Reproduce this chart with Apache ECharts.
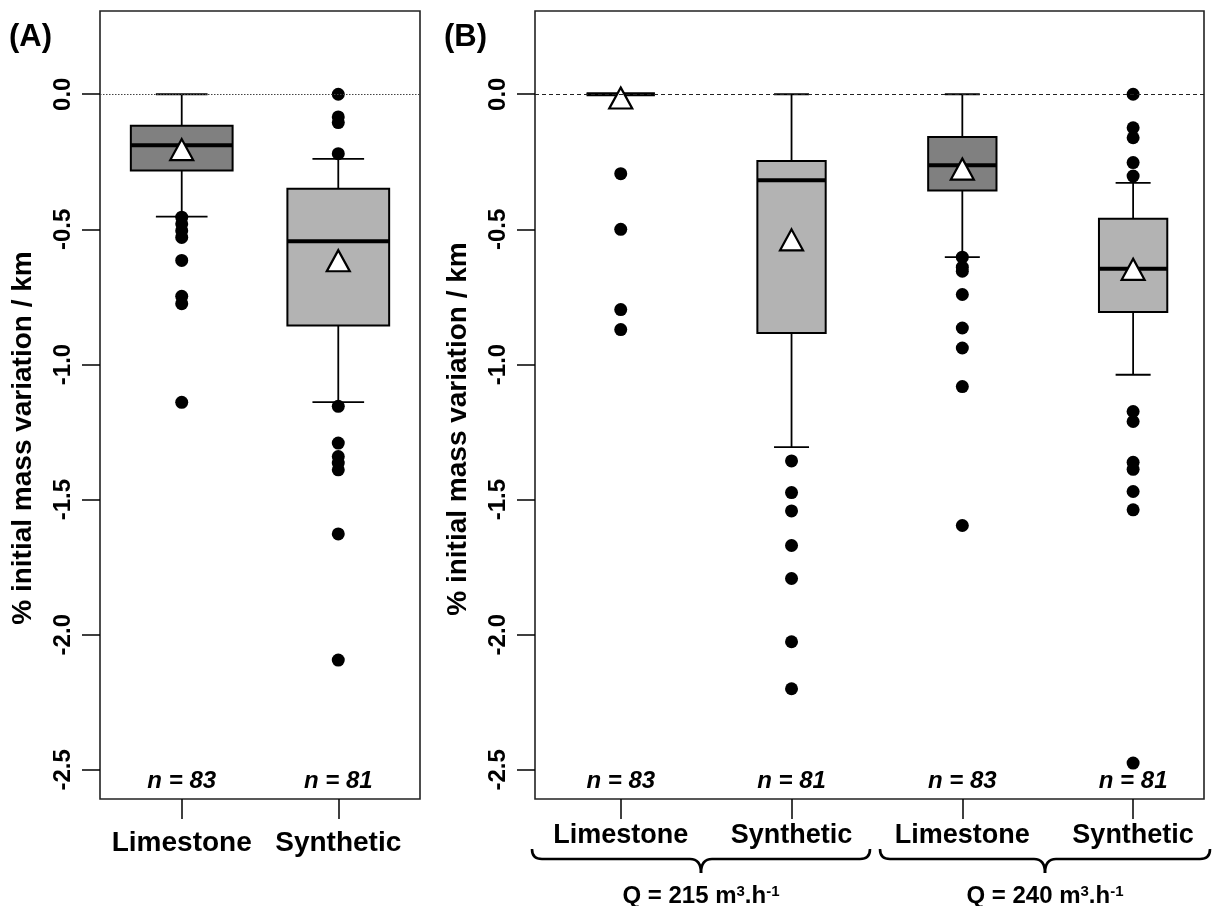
<!DOCTYPE html>
<html>
<head>
<meta charset="utf-8">
<script src="https://cdn.jsdelivr.net/npm/echarts@6/dist/echarts.min.js"></script>
<style>
  html, body { margin: 0; padding: 0; background: #fff; }
  #chart { width: 1212px; height: 906px; }
</style>
</head>
<body>
<div id="chart"></div>
<script>
// ---------------- DATA ----------------
const yTicks = [0, -0.5, -1.0, -1.5, -2.0, -2.5];

// Panel A
const categoriesA = ['Limestone', 'Synthetic'];
const nA = [83, 81];
const lowA  = [-0.453, -1.139];
const q1A   = [-0.282, -0.856];
const medA  = [-0.189, -0.544];
const q3A   = [-0.117, -0.350];
const highA = [0.000, -0.239];
const meanA = [-0.205, -0.616];
const outliersA = [
  [-0.455, -0.480, -0.505, -0.530, -0.615, -0.748, -0.775, -1.140],
  [0.000, -0.084, -0.105, -0.220, -1.155, -1.291, -1.341, -1.365, -1.390, -1.627, -2.094]
];

// Panel B
const categoriesB = ['Limestone', 'Synthetic', 'Limestone', 'Synthetic'];
const nB = [83, 81, 83, 81];
const lowB  = [0.000, -1.306, -0.603, -1.038];
const q1B   = [0.000, -0.884, -0.356, -0.806];
const medB  = [0.000, -0.318, -0.263, -0.646];
const q3B   = [0.000, -0.247, -0.158, -0.461];
const highB = [0.000, 0.000, 0.000, -0.328];
const meanB = [-0.014, -0.539, -0.277, -0.648];
const outliersB = [
  [-0.294, -0.500, -0.797, -0.871],
  [-1.357, -1.474, -1.542, -1.670, -1.792, -2.026, -2.200],
  [-0.603, -0.640, -0.655, -0.741, -0.865, -0.939, -1.082, -1.596],
  [0.000, -0.124, -0.161, -0.253, -0.303, -1.174, -1.211, -1.362, -1.388, -1.470, -1.538, -2.475]
];
const groupLabelsB = ['Q = 215 ', 'Q = 240 '];

// ---------------- STYLE ----------------
const FONT = "'Liberation Sans', Arial, sans-serif";
const fillsA = ['#808080', '#b3b3b3'];
const fillsB = ['#808080', '#b3b3b3', '#808080', '#b3b3b3'];

function boxRenderer(boxW, capW, fills) {
  return function (params, api) {
    const x = api.value(0);
    const pLo = api.coord([x, api.value(1)]);
    const pQ1 = api.coord([x, api.value(2)]);
    const pMd = api.coord([x, api.value(3)]);
    const pQ3 = api.coord([x, api.value(4)]);
    const pHi = api.coord([x, api.value(5)]);
    const hb = api.size([boxW, 0])[0] / 2;
    const hc = api.size([capW, 0])[0] / 2;
    const cx = pMd[0];
    const lineStyle = { stroke: '#000', lineWidth: 1.8 };
    const children = [];
    if (pLo[1] - pQ1[1] > 0.5) {
      children.push({ type: 'line', shape: { x1: cx, y1: pQ1[1], x2: cx, y2: pLo[1] }, style: lineStyle });
    }
    if (pQ3[1] - pHi[1] > 0.5) {
      children.push({ type: 'line', shape: { x1: cx, y1: pQ3[1], x2: cx, y2: pHi[1] }, style: lineStyle });
    }
    children.push({ type: 'line', shape: { x1: cx - hc, y1: pLo[1], x2: cx + hc, y2: pLo[1] }, style: lineStyle });
    children.push({ type: 'line', shape: { x1: cx - hc, y1: pHi[1], x2: cx + hc, y2: pHi[1] }, style: lineStyle });
    children.push({ type: 'rect', shape: { x: cx - hb, y: pQ3[1], width: 2 * hb, height: pQ1[1] - pQ3[1] },
      style: { fill: fills[params.dataIndex], stroke: '#000', lineWidth: 2 } });
    children.push({ type: 'line', shape: { x1: cx - hb, y1: pMd[1], x2: cx + hb, y2: pMd[1] },
      style: { stroke: '#000', lineWidth: 4 } });
    return { type: 'group', children: children };
  };
}

function boxData(lo, q1, md, q3, hi) {
  return lo.map((v, i) => [i + 1, lo[i], q1[i], md[i], q3[i], hi[i]]);
}
function outlierData(outs) {
  const d = [];
  outs.forEach((arr, i) => arr.forEach(v => d.push([i + 1, v])));
  return d;
}
function meanData(means) {
  return means.map((v, i) => [i + 1, v]);
}

const xPos = n => Array.from({ length: n }, (_, i) => i + 1);

function yAxisCfg(gridIndex, padRight) {
  return {
    type: 'value', gridIndex: gridIndex, min: -2.608, max: 0.308,
    name: '% initial mass variation / km', nameLocation: 'middle', nameGap: 63, nameRotate: 90,
    nameTextStyle: { fontFamily: FONT, fontWeight: 'bold', fontSize: 28, color: '#000', padding: [0, padRight, 0, 0] },
    axisLine: { show: false, onZero: false },
    splitLine: { show: false },
    axisTick: { show: true, length: 18, customValues: yTicks, lineStyle: { color: '#000', width: 1.5 } },
    axisLabel: { customValues: yTicks, rotate: 90, margin: 25, fontFamily: FONT, fontWeight: 'bold', fontSize: 24, color: '#000',
      formatter: v => v.toFixed(1) }
  };
}

function xAxisCfg(gridIndex, min, max, cats, margin, fontSize) {
  return {
    type: 'value', gridIndex: gridIndex, min: min, max: max, position: 'bottom',
    axisLine: { show: false, onZero: false }, splitLine: { show: false },
    axisTick: { show: true, length: 20, customValues: xPos(cats.length), lineStyle: { color: '#000', width: 1.5 } },
    axisLabel: { customValues: xPos(cats.length), margin: margin, fontFamily: FONT, fontWeight: 'bold',
      fontSize: fontSize, color: '#000', formatter: v => cats[Math.round(v) - 1] }
  };
}
function nAxisCfg(gridIndex, min, max, ns) {
  return {
    type: 'value', gridIndex: gridIndex, min: min, max: max, position: 'bottom',
    axisLine: { show: false, onZero: false }, splitLine: { show: false }, axisTick: { show: false },
    axisLabel: { customValues: xPos(ns.length), inside: true, margin: 6, fontFamily: FONT, fontWeight: 'bold',
      fontStyle: 'italic', fontSize: 24, color: '#000', formatter: v => 'n = ' + ns[Math.round(v) - 1] }
  };
}

function brace(x1, x2, y) {
  const xm = (x1 + x2) / 2;
  const st = { stroke: '#000', lineWidth: 2.6, fill: null };
  return {
    type: 'group',
    children: [
      { type: 'bezierCurve', shape: { x1: x1, y1: y - 10, cpx1: x1, cpy1: y, x2: x1 + 10, y2: y }, style: st },
      { type: 'line', shape: { x1: x1 + 10, y1: y, x2: xm - 11, y2: y }, style: st },
      { type: 'bezierCurve', shape: { x1: xm - 11, y1: y, cpx1: xm, cpy1: y, x2: xm, y2: y + 14 }, style: st },
      { type: 'bezierCurve', shape: { x1: xm, y1: y + 14, cpx1: xm, cpy1: y, x2: xm + 11, y2: y }, style: st },
      { type: 'line', shape: { x1: xm + 11, y1: y, x2: x2 - 10, y2: y }, style: st },
      { type: 'bezierCurve', shape: { x1: x2 - 10, y1: y, cpx1: x2, cpy1: y, x2: x2, y2: y - 10 }, style: st }
    ]
  };
}

const qRich = {
  b: { fontFamily: FONT, fontWeight: 'bold', fontSize: 24, fill: '#000', verticalAlign: 'bottom' },
  s: { fontFamily: FONT, fontWeight: 'bold', fontSize: 15, fill: '#000', verticalAlign: 'top' }
};

const dotStyle = { color: '#000', opacity: 1 };
const meanStyle = { color: '#fff', borderColor: '#000', borderWidth: 2.2, opacity: 1 };

const chart = echarts.init(document.getElementById('chart'), null, { renderer: 'canvas' });

const option = {
  animation: false,
  backgroundColor: '#fff',
  grid: [
    { left: 100, top: 11, width: 320, height: 788, show: true, borderColor: '#222', borderWidth: 1.6, backgroundColor: 'transparent' },
    { left: 535, top: 11, width: 669, height: 788, show: true, borderColor: '#222', borderWidth: 1.6, backgroundColor: 'transparent' }
  ],
  xAxis: [
    xAxisCfg(0, 0.478, 2.522, categoriesA, 30, 28),
    nAxisCfg(0, 0.478, 2.522, nA),
    xAxisCfg(1, 0.498, 4.415, categoriesB, 23, 27),
    nAxisCfg(1, 0.498, 4.415, nB)
  ],
  yAxis: [yAxisCfg(0, 66), yAxisCfg(1, 48)],
  series: [
    { type: 'custom', xAxisIndex: 0, yAxisIndex: 0, renderItem: boxRenderer(0.65, 0.33, fillsA),
      data: boxData(lowA, q1A, medA, q3A, highA), z: 2 },
    { type: 'scatter', xAxisIndex: 0, yAxisIndex: 0, symbol: 'circle', symbolSize: 13,
      itemStyle: dotStyle, data: outlierData(outliersA), z: 3,
      markLine: { silent: true, symbol: 'none', label: { show: false },
        lineStyle: { color: '#444', width: 1, type: [1.5, 1.5] }, data: [{ yAxis: 0 }] } },
    { type: 'scatter', xAxisIndex: 0, yAxisIndex: 0, symbol: 'triangle', symbolSize: [23, 21],
      itemStyle: meanStyle, data: meanData(meanA), z: 4 },

    { type: 'custom', xAxisIndex: 2, yAxisIndex: 1, renderItem: boxRenderer(0.40, 0.205, fillsB),
      data: boxData(lowB, q1B, medB, q3B, highB), z: 2 },
    { type: 'scatter', xAxisIndex: 2, yAxisIndex: 1, symbol: 'circle', symbolSize: 13,
      itemStyle: dotStyle, data: outlierData(outliersB), z: 3,
      markLine: { silent: true, symbol: 'none', label: { show: false },
        lineStyle: { color: '#222', width: 1, type: [4, 3] }, data: [{ yAxis: 0 }] } },
    { type: 'scatter', xAxisIndex: 2, yAxisIndex: 1, symbol: 'triangle', symbolSize: [23, 21],
      itemStyle: meanStyle, data: meanData(meanB), z: 4 }
  ],
  graphic: [
    { type: 'text', left: 9, top: 22, style: { text: '(A)', fontFamily: FONT, fontWeight: 'bold', fontSize: 31, fill: '#000' } },
    { type: 'text', left: 444, top: 22, style: { text: '(B)', fontFamily: FONT, fontWeight: 'bold', fontSize: 31, fill: '#000' } },
    brace(532, 870, 859),
    brace(880, 1210, 859),
    { type: 'text', x: 701, y: 896, style: { text: '{b|' + groupLabelsB[0] + 'm}{s|3}{b|.h}{s|-1}', align: 'center', verticalAlign: 'middle', rich: qRich } },
    { type: 'text', x: 1045, y: 896, style: { text: '{b|' + groupLabelsB[1] + 'm}{s|3}{b|.h}{s|-1}', align: 'center', verticalAlign: 'middle', rich: qRich } }
  ]
};
chart.setOption(option);
</script>
</body>
</html>
